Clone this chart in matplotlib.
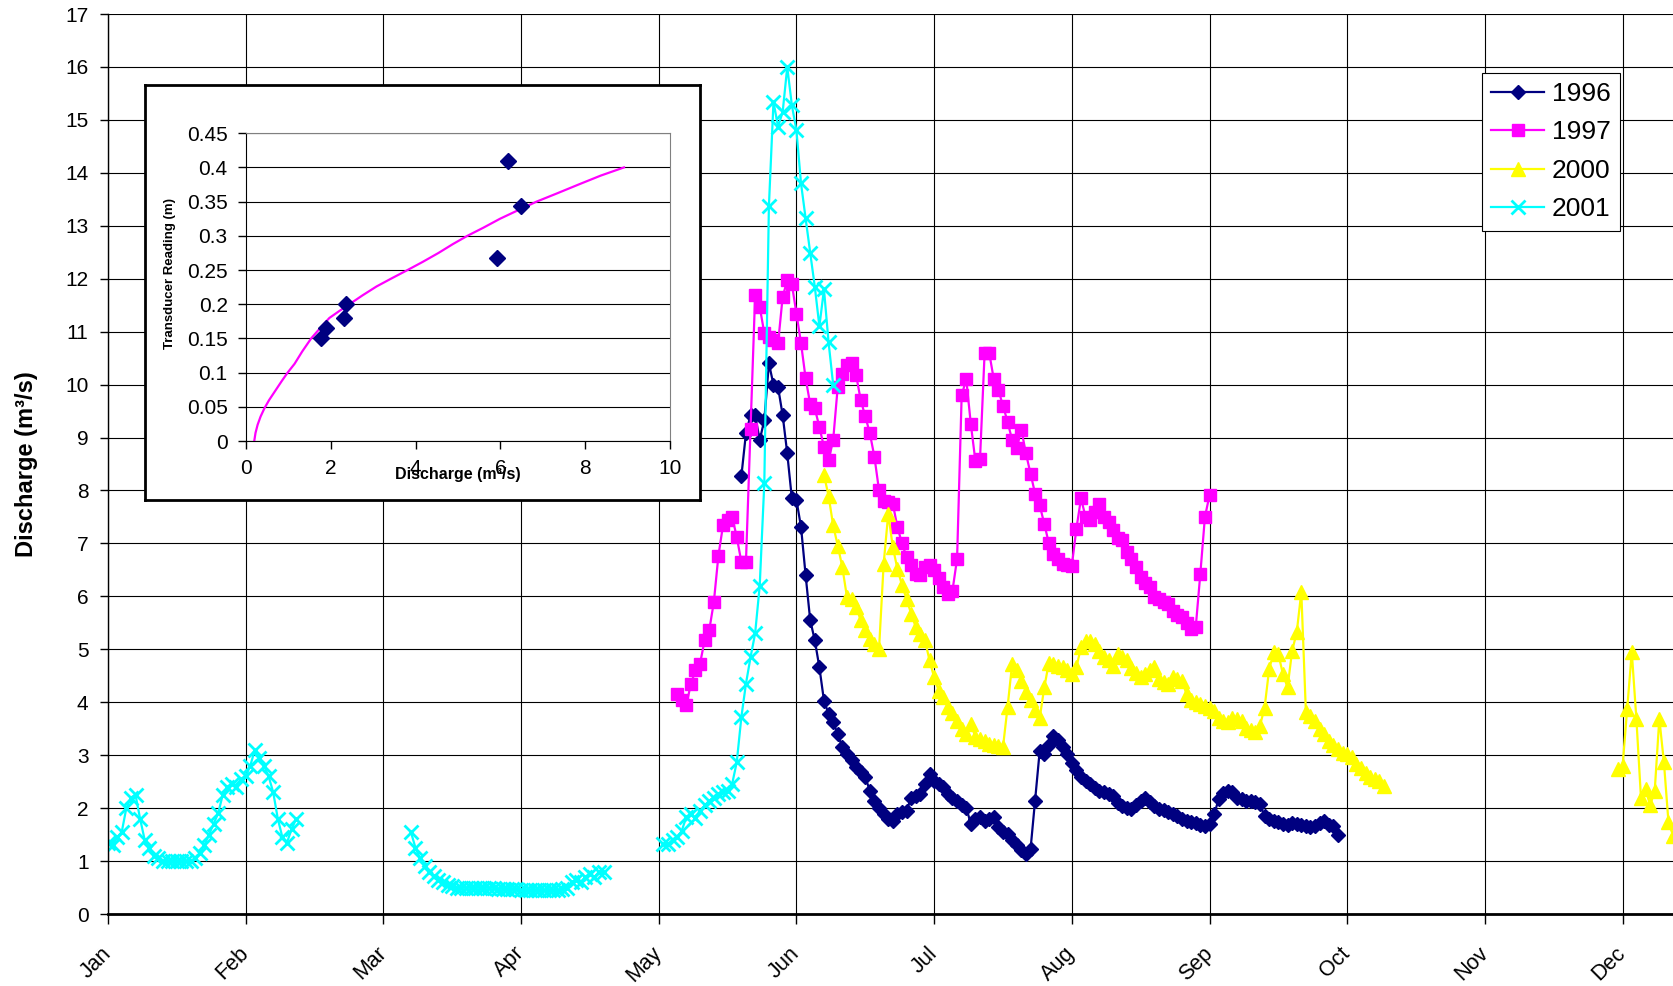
import numpy as np
import matplotlib
matplotlib.use('Agg')
import matplotlib.pyplot as plt
from matplotlib.transforms import ScaledTranslation

plt.rcParams['font.family'] = ['Liberation Sans', 'DejaVu Sans']

# x axis is day of year, month gridlines every 30 days
months = ['Jan', 'Feb', 'Mar', 'Apr', 'May', 'Jun',
          'Jul', 'Aug', 'Sep', 'Oct', 'Nov', 'Dec']

# 1996 daily discharge (m3/s), starts day 138
start_1996 = 138
q_1996 = [8.27, 9.08, 9.42, 9.42, 8.95, 9.33, 10.4, 10.0, 9.95, 9.42,
          8.7, 7.85, 7.82, 7.31, 6.4, 5.55, 5.17, 4.66, 4.03, 3.78,
          3.62, 3.4, 3.15, 3.02, 2.9, 2.77, 2.68, 2.58, 2.33, 2.14,
          2.01, 1.89, 1.8, 1.76, 1.89, 1.92, 1.95, 2.2, 2.22, 2.27,
          2.45, 2.64, 2.52, 2.45, 2.39, 2.27, 2.2, 2.14, 2.05, 2.01,
          1.7, 1.8, 1.83, 1.76, 1.8, 1.83, 1.64, 1.55, 1.51, 1.4,
          1.3, 1.2, 1.13, 1.22, 2.14, 3.08, 3.02, 3.2, 3.37, 3.28,
          3.15, 3.02, 2.85, 2.72, 2.58, 2.51, 2.45, 2.38, 2.33, 2.3,
          2.26, 2.23, 2.1, 2.04, 2.01, 1.98, 2.05, 2.14, 2.2, 2.12,
          2.04, 1.98, 1.96, 1.93, 1.88, 1.85, 1.8, 1.76, 1.73, 1.71,
          1.69, 1.66, 1.7, 1.88, 2.17, 2.29, 2.33, 2.3, 2.2, 2.17,
          2.14, 2.14, 2.12, 2.07, 1.85, 1.8, 1.76, 1.73, 1.7, 1.69,
          1.72, 1.7, 1.68, 1.66, 1.65, 1.66, 1.72, 1.76, 1.69, 1.66,
          1.5]

# 1997, starts day 124
start_1997 = 124
q_1997 = [4.16, 4.05, 3.94, 4.35, 4.6, 4.73, 5.17, 5.36, 5.89, 6.77,
          7.34, 7.45, 7.5, 7.12, 6.65, 6.65, 9.17, 11.69, 11.47, 10.97,
          10.9, 10.85, 10.78, 11.66, 11.97, 11.9, 11.34, 10.78, 10.12, 9.63,
          9.55, 9.2, 8.82, 8.57, 8.95, 9.96, 10.2, 10.37, 10.4, 10.18,
          9.71, 9.4, 9.08, 8.63, 8.0, 7.81, 7.78, 7.75, 7.31, 7.0,
          6.74, 6.6, 6.42, 6.4, 6.55, 6.6, 6.49, 6.35, 6.18, 6.05,
          6.11, 6.71, 9.8, 10.1, 9.25, 8.55, 8.6, 10.6, 10.6, 10.1,
          9.9, 9.6, 9.3, 8.95, 8.8, 9.15, 8.7, 8.32, 7.94, 7.72,
          7.37, 7.0, 6.8, 6.7, 6.61, 6.6, 6.58, 7.28, 7.85, 7.5,
          7.44, 7.6, 7.75, 7.5, 7.4, 7.25, 7.1, 7.06, 6.84, 6.7,
          6.55, 6.36, 6.25, 6.17, 5.98, 5.95, 5.9, 5.86, 5.73, 5.65,
          5.61, 5.5, 5.38, 5.42, 6.43, 7.5, 7.91]

# 2000, two stretches
start_2000_a = 156
q_2000_a = [8.29, 7.9, 7.34, 6.96, 6.55, 5.99, 5.95, 5.8, 5.55, 5.36,
            5.2, 5.1, 5.01, 6.61, 7.56, 6.93, 6.52, 6.21, 5.95, 5.67,
            5.42, 5.29, 5.17, 4.79, 4.47, 4.22, 4.09, 3.91, 3.8, 3.65,
            3.5, 3.4, 3.59, 3.34, 3.3, 3.27, 3.21, 3.2, 3.18, 3.15,
            3.91, 4.73, 4.6, 4.4, 4.2, 4.05, 3.85, 3.7, 4.28, 4.75,
            4.72, 4.69, 4.66, 4.6, 4.53, 4.66, 5.04, 5.16, 5.16, 5.1,
            4.97, 4.85, 4.79, 4.69, 4.91, 4.85, 4.79, 4.65, 4.55, 4.47,
            4.53, 4.6, 4.66, 4.44, 4.38, 4.34, 4.47, 4.44, 4.41, 4.15,
            4.05, 4.0, 3.97, 3.93, 3.9, 3.84, 3.71, 3.65, 3.62, 3.71,
            3.68, 3.65, 3.52, 3.47, 3.43, 3.56, 3.9, 4.63, 4.94, 4.91,
            4.53, 4.28, 4.97, 5.32, 6.08, 3.81, 3.74, 3.65, 3.5, 3.4,
            3.27, 3.2, 3.11, 3.05, 3.02, 2.96, 2.83, 2.75, 2.67, 2.58,
            2.55, 2.51, 2.42]
start_2000_b = 329
q_2000_b = [2.74, 2.8, 3.88, 4.95, 3.69, 2.2, 2.36, 2.05, 2.33, 3.69,
            2.87, 1.73, 1.48]

# 2001, three stretches
start_2001_a = 0
q_2001_a = [1.35, 1.3, 1.45, 1.55, 2.0, 2.2, 2.25, 1.8, 1.4, 1.25,
            1.1, 1.05, 1.0, 1.0, 1.0, 1.0, 1.0, 1.0, 1.0, 1.05,
            1.15, 1.3, 1.5, 1.7, 1.9, 2.25, 2.4, 2.45, 2.4, 2.55,
            2.6, 2.8, 3.1, 2.95, 2.8, 2.6, 2.3, 1.8, 1.45, 1.35,
            1.6, 1.8]
start_2001_b = 66
q_2001_b = [1.55, 1.25, 1.05, 0.9, 0.8, 0.72, 0.65, 0.6, 0.55, 0.52,
            0.5, 0.5, 0.5, 0.5, 0.5, 0.5, 0.5, 0.5, 0.5, 0.48,
            0.48, 0.48, 0.47, 0.47, 0.45, 0.45, 0.45, 0.45, 0.45, 0.45,
            0.45, 0.45, 0.45, 0.48, 0.5, 0.6, 0.65, 0.6, 0.7, 0.75,
            0.7, 0.8, 0.8]
start_2001_c = 121
q_2001_c = [1.32, 1.32, 1.4, 1.45, 1.57, 1.83, 1.88, 1.82, 1.95,
            2.05, 2.14, 2.2, 2.27, 2.3, 2.33, 2.46, 2.87, 3.72, 4.35,
            4.85, 5.3, 6.2, 8.14, 13.37, 15.34, 14.87, 15.15, 16.0, 15.28,
            14.8, 13.8, 13.14, 12.49, 11.85, 11.1, 11.8, 10.8, 10.0]

# inset: rating points and fitted curve
cal_q = [1.78, 1.90, 2.31, 2.37, 5.93, 6.17, 6.48]
cal_h = [0.150, 0.166, 0.180, 0.201, 0.268, 0.410, 0.343]
fit_q = [0.2, 0.23, 0.28, 0.35, 0.44, 0.55, 0.7, 0.85, 0.985, 1.15,
         1.33, 1.54, 1.75, 1.97, 2.2, 2.44, 2.75, 3.08, 3.44, 3.81,
         4.17, 4.54, 4.88, 5.22, 5.6, 5.99, 6.4, 6.85, 7.33, 7.84,
         8.36, 8.91]
fit_h = [0.0, 0.012, 0.024, 0.036, 0.048, 0.06, 0.074, 0.088, 0.1, 0.113,
         0.131, 0.15, 0.165, 0.18, 0.19, 0.2, 0.213, 0.226, 0.238, 0.25,
         0.262, 0.275, 0.288, 0.3, 0.312, 0.325, 0.337, 0.35, 0.362, 0.375,
         0.388, 0.4]


def join(*segs):
    xs, ys = [], []
    for start, vals in segs:
        xs += list(np.arange(start, start + len(vals))) + [np.nan]
        ys += list(vals) + [np.nan]
    return np.array(xs, float), np.array(ys, float)


fig = plt.figure(figsize=(16.74, 9.86), dpi=100)
ax = fig.add_axes([0.0645, 0.0730, 0.9355, 0.9128])

x, y = join((start_1996, q_1996))
ax.plot(x, y, color='#000080', marker='D', ms=7, lw=1.6, label='1996')
x, y = join((start_1997, q_1997))
ax.plot(x, y, color='#FF00FF', marker='s', ms=8.5, lw=1.6, label='1997')
x, y = join((start_2000_a, q_2000_a), (start_2000_b, q_2000_b))
ax.plot(x, y, color='#FFFF00', marker='^', ms=10, lw=1.6, label='2000')
x, y = join((start_2001_a, q_2001_a), (start_2001_b, q_2001_b),
            (start_2001_c, q_2001_c))
ax.plot(x, y, color='#00FFFF', marker='x', ms=10, mew=2, lw=1.6, label='2001')

ax.set_xlim(0, 341.2)
ax.set_ylim(0, 17)
ax.set_xticks(np.arange(0, 331, 30))
ax.set_xticklabels(months, rotation=45, ha='right', va='center',
                   rotation_mode='anchor')
shift = ScaledTranslation(-6 / 100, 0, fig.dpi_scale_trans)
for lab in ax.get_xticklabels():
    lab.set_transform(lab.get_transform() + shift)
ax.set_yticks(range(18))
ax.grid(True, color='black', lw=0.8)
ax.set_axisbelow(True)
for s in ['top', 'right']:
    ax.spines[s].set_visible(False)
ax.spines['left'].set_linewidth(1)
ax.spines['bottom'].set_linewidth(2)
ax.tick_params(axis='x', length=7, width=1, pad=19, labelsize=15.5)
ax.tick_params(axis='y', length=6, width=1, pad=8, labelsize=15)
ax.set_ylabel('Discharge (m³/s)', fontsize=17, fontweight='bold')
ax.yaxis.set_label_coords(-0.045, 0.5)

leg = ax.legend(loc='upper left', bbox_to_anchor=(0.8853, 0.9264),
                bbox_transform=fig.transFigure, fontsize=19, numpoints=1,
                handlelength=2.0, borderaxespad=0, fancybox=False,
                framealpha=1, edgecolor='black', labelspacing=0.55,
                handletextpad=0.3, borderpad=0.35)
leg.get_frame().set_linewidth(0.8)

# inset chart
box = fig.add_axes([0.0866, 0.4929, 0.3315, 0.4209])
box.set_xticks([])
box.set_yticks([])
box.set_facecolor('white')
for s in box.spines.values():
    s.set_linewidth(2)
    s.set_color('black')

ins = fig.add_axes([0.1468, 0.5526, 0.2536, 0.3123])
ins.plot(fit_q, fit_h, color='#FF00FF', lw=1.6)
ins.plot(cal_q, cal_h, 'D', color='#000080', ms=8, ls='none')
ins.set_xlim(0, 10)
ins.set_ylim(0, 0.45)
ins.set_xticks(range(0, 11, 2))
ins.set_yticks(np.arange(0, 0.451, 0.05))
ins.set_yticklabels(['0', '0.05', '0.1', '0.15', '0.2', '0.25', '0.3',
                     '0.35', '0.4', '0.45'])
ins.grid(True, axis='y', color='black', lw=0.8)
ins.set_axisbelow(True)
ins.spines['top'].set_color('#808080')
ins.spines['right'].set_color('#808080')
ins.tick_params(length=6, width=1, labelsize=15, pad=7)
ins.set_xlabel('Discharge (m³/s)', fontsize=11.5, fontweight='bold')
ins.xaxis.set_label_coords(0.5, -0.085)
ins.set_ylabel('Transducer Reading (m)', fontsize=9.5, fontweight='bold')
ins.yaxis.set_label_coords(-0.165, 0.545)

fig.savefig('out.png', dpi=100)
